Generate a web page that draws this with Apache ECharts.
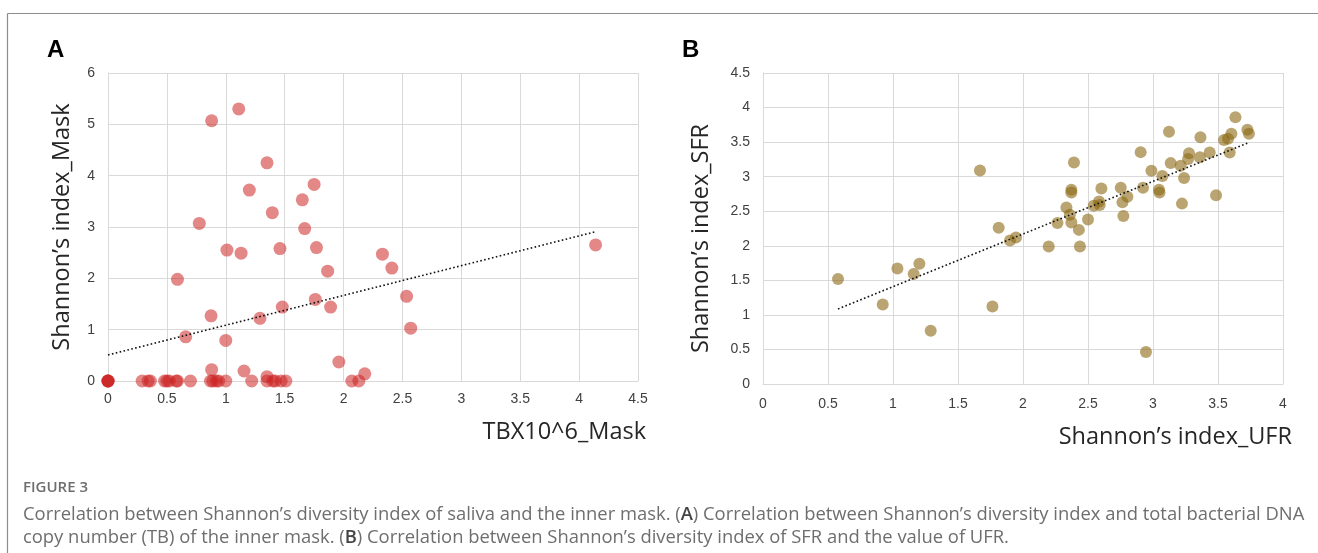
<!DOCTYPE html>
<html>
<head>
<meta charset="utf-8">
<script src="https://cdn.jsdelivr.net/npm/echarts@6/dist/echarts.min.js"></script>
<style>
html,body{margin:0;padding:0;background:#fff;}
#chart{width:1318px;height:553px;}
</style>
</head>
<body>
<div id="chart"></div>
<script>
// ---- Panel A data: TBX10^6_Mask (x) vs Shannon's index_Mask (y)
const maskTB = [
  1.11, 0.88, 1.35, 1.20, 1.75, 1.65, 1.395, 0.775, 1.67,
  1.01, 1.13, 1.46, 1.77, 1.865, 0.59, 1.76, 1.48, 1.89, 1.29, 0.875,
  0.66, 1.00, 1.96, 0.88, 1.155, 2.18, 1.35,
  2.33, 2.41, 2.535, 2.57, 4.14,
  0, 0, 0, 0, 0.29, 0.34, 0.36, 0.48, 0.50, 0.52, 0.58, 0.59, 0.70,
  0.87, 0.89, 0.92, 0.94, 1.00, 1.22, 1.35, 1.40, 1.42, 1.47, 1.51, 2.07, 2.13
];
const maskShannon = [
  5.30, 5.07, 4.25, 3.72, 3.83, 3.53, 3.28, 3.07, 2.97,
  2.55, 2.49, 2.58, 2.60, 2.14, 1.98, 1.59, 1.44, 1.44, 1.22, 1.27,
  0.86, 0.79, 0.37, 0.22, 0.195, 0.14, 0.085,
  2.47, 2.20, 1.65, 1.03, 2.65,
  0, 0, 0, 0, 0, 0, 0, 0, 0, 0, 0, 0, 0,
  0, 0, 0, 0, 0, 0, 0, 0, 0, 0, 0, 0, 0
];
const trendA = { intercept: 0.507, slope: 0.58, from: 0, to: 4.14 };
const xTicksA = { min: 0, max: 4.5, interval: 0.5 };
const yTicksA = { min: 0, max: 6, interval: 1 };

// ---- Panel B data: Shannon's index_UFR (x) vs Shannon's index_SFR (y)
const ufrShannon = [
  0.577, 1.034, 1.203, 1.159, 0.921, 1.765, 1.29, 1.669, 1.813, 1.90, 1.946,
  2.198, 2.438, 2.946, 2.43, 2.265, 2.36,
  2.392, 2.372, 2.372, 2.334, 2.372, 2.50, 2.544, 2.585, 2.59, 2.603,
  2.752, 2.803, 2.765, 2.772, 2.905, 2.923, 2.988, 3.046, 3.05, 3.072,
  3.123, 3.136, 3.213, 3.239, 3.223, 3.27, 3.277, 3.36, 3.365, 3.436,
  3.485, 3.546, 3.577, 3.603, 3.59, 3.634, 3.726, 3.738
];
const sfrShannon = [
  1.52, 1.67, 1.74, 1.59, 1.15, 1.12, 0.77, 3.09, 2.26, 2.075, 2.12,
  1.99, 1.99, 0.463, 2.23, 2.33, 2.45,
  3.205, 2.81, 2.77, 2.553, 2.336, 2.38, 2.58, 2.64, 2.59, 2.83,
  2.84, 2.71, 2.63, 2.43, 3.355, 2.84, 3.085, 2.81, 2.77, 3.01,
  3.65, 3.196, 3.157, 2.98, 2.61, 3.254, 3.34, 3.28, 3.57, 3.35,
  2.73, 3.53, 3.55, 3.62, 3.35, 3.86, 3.68, 3.62
];
const trendB = { intercept: 0.646, slope: 0.762, from: 0.577, to: 3.726 };
const xTicksB = { min: 0, max: 4, interval: 0.5 };
const yTicksB = { min: 0, max: 4.5, interval: 0.5 };

const labels = {
  panelA: 'A', panelB: 'B',
  xA: 'TBX10^6_Mask', yA: 'Shannon\u2019s index_Mask',
  xB: 'Shannon\u2019s index_UFR', yB: 'Shannon\u2019s index_SFR',
  figure: 'FIGURE 3',
  cap1: ['Correlation between Shannon\u2019s diversity index of saliva and the inner mask. (', 'A', ') Correlation between Shannon\u2019s diversity index and total bacterial DNA'],
  cap2: ['copy number (TB) of the inner mask. (', 'B', ') Correlation between Shannon\u2019s diversity index of SFR and the value of UFR.']
};

function zip(xs, ys){ return xs.map((x,i)=>[x, ys[i]]); }
function trendPts(t){ return [[t.from, t.intercept + t.slope*t.from],[t.to, t.intercept + t.slope*t.to]]; }

const gridColor = '#d9d9d9';
const tickFont = { fontFamily: 'Liberation Sans, Arial, sans-serif', fontSize: 14, color: '#404040' };
const titleFont = { fontFamily: 'Open Sans, Noto Sans, sans-serif', fontSize: 23.5, color: '#262626' };

function valueAxis(t, gridIndex, extra){
  return Object.assign({
    type: 'value', gridIndex: gridIndex, min: t.min, max: t.max, interval: t.interval,
    axisLine: { show: true, lineStyle: { color: gridColor, width: 1 } },
    axisTick: { show: false },
    splitLine: { show: true, lineStyle: { color: gridColor, width: 1 } },
    axisLabel: Object.assign({}, tickFont)
  }, extra);
}

const capRich = {
  t: { font: '18.4px Open Sans, sans-serif', fill: '#6e6e6e' },
  b: { font: '600 18.4px Open Sans, sans-serif', fill: '#444' }
};

const chart = echarts.init(document.getElementById('chart'), null, { renderer: 'canvas' });
chart.setOption({
  animation: false,
  backgroundColor: '#fff',
  grid: [
    { left: 108, top: 73, width: 530, height: 308 },
    { left: 763, top: 73, width: 520, height: 311 }
  ],
  xAxis: [
    valueAxis(xTicksA, 0, {
      name: labels.xA, nameLocation: 'end', nameGap: 8,
      nameTextStyle: Object.assign({}, titleFont, { align: 'right', verticalAlign: 'top', padding: [39, 0, 0, 0] }),
      axisLabel: Object.assign({}, tickFont, { margin: 11 })
    }),
    valueAxis(xTicksB, 1, {
      name: labels.xB, nameLocation: 'end', nameGap: 9,
      nameTextStyle: Object.assign({}, titleFont, { align: 'right', verticalAlign: 'top', padding: [41, 0, 0, 0] }),
      axisLabel: Object.assign({}, tickFont, { margin: 13 })
    })
  ],
  yAxis: [
    valueAxis(yTicksA, 0, {
      name: labels.yA, nameLocation: 'middle', nameGap: 34,
      nameTextStyle: Object.assign({}, titleFont),
      axisLabel: Object.assign({}, tickFont, { margin: 13 })
    }),
    valueAxis(yTicksB, 1, {
      name: labels.yB, nameLocation: 'middle', nameGap: 50,
      nameTextStyle: Object.assign({}, titleFont, { padding: [0, 20, 0, 0] }),
      axisLabel: Object.assign({}, tickFont, { margin: 13 })
    })
  ],
  series: [
    {
      type: 'scatter', xAxisIndex: 0, yAxisIndex: 0, data: zip(maskTB, maskShannon),
      symbolSize: 13, itemStyle: { color: 'rgba(204,34,34,0.68)' }
    },
    {
      type: 'line', xAxisIndex: 0, yAxisIndex: 0, data: trendPts(trendA),
      symbol: 'none', lineStyle: { color: '#111', width: 1.6, type: [1.6, 2.4] }
    },
    {
      type: 'scatter', xAxisIndex: 1, yAxisIndex: 1, data: zip(ufrShannon, sfrShannon),
      symbolSize: 12, itemStyle: { color: 'rgba(140,105,20,0.75)' }
    },
    {
      type: 'line', xAxisIndex: 1, yAxisIndex: 1, data: trendPts(trendB),
      symbol: 'none', lineStyle: { color: '#111', width: 1.6, type: [1.6, 2.4] }
    }
  ],
  graphic: [
    { type: 'line', shape: { x1: 7.5, y1: 13.5, x2: 1318, y2: 13.5 }, style: { stroke: '#8c8c8c', lineWidth: 1.2 } },
    { type: 'line', shape: { x1: 7.5, y1: 13.5, x2: 7.5, y2: 553 }, style: { stroke: '#8c8c8c', lineWidth: 1.2 } },
    { type: 'text', left: 47, top: 38, style: { text: labels.panelA, font: 'bold 24px Liberation Sans, Arial, sans-serif', fill: '#000' } },
    { type: 'text', left: 682, top: 38, style: { text: labels.panelB, font: 'bold 24px Liberation Sans, Arial, sans-serif', fill: '#000' } },
    { type: 'text', left: 23, top: 480, style: { text: labels.figure, font: '600 15px Open Sans, sans-serif', fill: '#6e6e6e' } },
    { type: 'text', left: 23, top: 506, style: {
      text: '{t|' + labels.cap1[0] + '}{b|' + labels.cap1[1] + '}{t|' + labels.cap1[2] + '}', rich: capRich
    } },
    { type: 'text', left: 23, top: 529, style: {
      text: '{t|' + labels.cap2[0] + '}{b|' + labels.cap2[1] + '}{t|' + labels.cap2[2] + '}', rich: capRich
    } }
  ]
});
</script>
</body>
</html>
